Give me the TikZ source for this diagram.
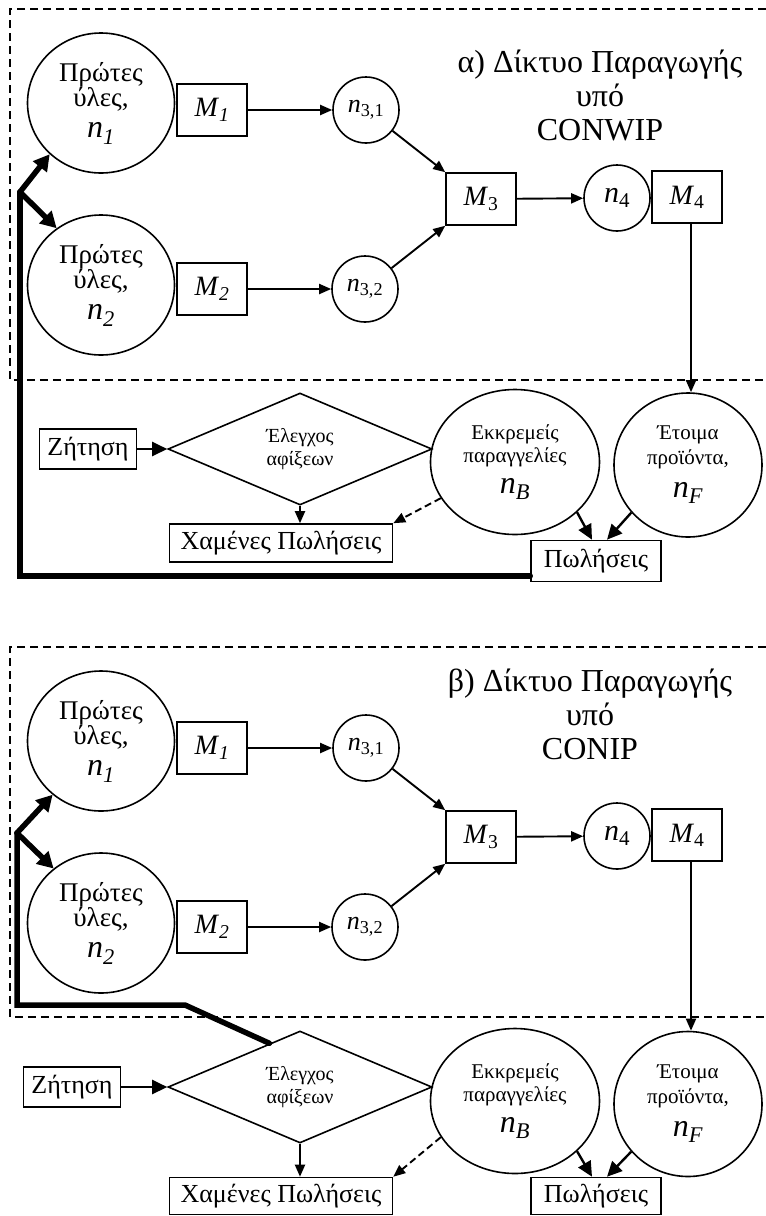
\documentclass[tikz,border=0pt]{standalone}
\usepackage{fontspec}
\setmainfont{Liberation Serif}
\usepackage{tikz}
\usetikzlibrary{positioning, arrows.meta, shapes.geometric}

\begin{document}
\begin{tikzpicture}[x=1pt, y=-1pt,
  stock/.style={draw, ellipse, line width=1.6pt, inner sep=0pt, align=center, font=\fontsize{27}{23}\selectfont},
  buf/.style={draw, circle, line width=1.6pt, inner sep=0pt, minimum size=66pt, font=\fontsize{26}{28}\selectfont},
  mach/.style={draw, line width=1.6pt, inner sep=0pt, minimum width=70pt, minimum height=52pt, font=\fontsize{28}{30}\selectfont},
  lbl/.style={draw, line width=1.6pt, inner sep=0pt, minimum height=40pt, font=\fontsize{26}{28}\selectfont},
  check/.style={draw, diamond, line width=1.6pt, inner sep=0pt, minimum width=264pt, minimum height=112pt, align=center, font=\fontsize{20}{23}\selectfont},
  ttl/.style={align=center, font=\fontsize{32}{34}\selectfont},
  flow/.style={line width=1.9pt, -{Triangle[length=12pt,width=10pt]}},
  bigflow/.style={line width=2.4pt, -{Triangle[length=15pt,width=14pt]}},
  feed/.style={line width=5.5pt, line cap=round},
  feedarr/.style={line width=5.5pt, line cap=round, -{Triangle[length=16pt,width=17pt]}},
  zone/.style={line width=1.4pt, dash pattern=on 8pt off 5pt}]
\useasboundingbox (0,0) rectangle (766,1216);

\draw[zone] (766,9) -- (10,9) -- (10,380) -- (766,380);
\node[ttl] (ta) at (600,95) {α) Δίκτυο Παραγωγής\\υπό\\CONWIP};
\node[stock, minimum width=147pt, minimum height=140pt] (ra1) at (101,103) {Πρώτες\\ύλες,\\[8pt]{\fontsize{32}{32}\selectfont\textit{n}\textsubscript{\textit{1}}}};
\node[stock, minimum width=147pt, minimum height=140pt] (ra2) at (101,285) {Πρώτες\\ύλες,\\[8pt]{\fontsize{32}{32}\selectfont\textit{n}\textsubscript{\textit{2}}}};
\node[mach] (ma1) at (212,110) {\textit{M}\textsubscript{\textit{1}}};
\node[mach] (ma2) at (212,289) {\textit{M}\textsubscript{\textit{2}}};
\node[buf] (qa31) at (366,110) {\textit{n}\textsubscript{3,1}};
\node[buf] (qa32) at (365,289) {\textit{n}\textsubscript{3,2}};
\node[mach] (ma3) at (481,199) {\textit{M}\textsubscript{3}};
\node[buf, font=\fontsize{30}{30}\selectfont] (qa4) at (617,198) {\textit{n}\textsubscript{4}};
\node[mach] (ma4) at (687,197) {\textit{M}\textsubscript{4}};
\node[lbl, minimum width=97pt] (dema) at (88,449) {Ζήτηση};
\node[check] (chka) at (300,449) {Έλεγχος\\αφίξεων};
\node[stock, minimum width=169pt, minimum height=145pt, font=\fontsize{21}{23}\selectfont] (boa) at (515,462) {Εκκρεμείς\\παραγγελίες\\[8pt]{\fontsize{32}{32}\selectfont\textit{n}\textsubscript{\textit{B}}}};
\node[stock, minimum width=148pt, minimum height=144pt, font=\fontsize{21}{25}\selectfont] (fina) at (688,465) {Έτοιμα\\προϊόντα,\\[8pt]{\fontsize{32}{32}\selectfont\textit{n}\textsubscript{\textit{F}}}};
\node[lbl, minimum width=223pt, minimum height=38pt] (losta) at (281,543) {Χαμένες Πωλήσεις};
\node[lbl, minimum width=130pt, minimum height=41pt] (salesa) at (596,561) {Πωλήσεις};
\coordinate (fa) at (20,576);
\coordinate (forka) at (20,192);
\draw[flow] (ma1) -- (qa31);
\draw[flow] (ma2) -- (qa32);
\draw[flow] (qa31) -- (ma3.north west);
\draw[flow] (qa32) -- (ma3.south west);
\draw[flow] (ma3) -- (qa4);
\draw[flow] ([xshift=4pt]ma4.south) -- ([xshift=4pt]ma4.south |- fina.north);
\draw[bigflow] (dema) -- (chka.west);
\draw[flow] (chka.south) -- (chka.south |- losta.north);
\draw[flow, dash pattern=on 7pt off 4pt] (boa.206) -- (losta.north east);
\draw[bigflow] (boa.-39) -- ([xshift=-4pt]salesa.north);
\draw[bigflow] (fina.220) -- ([xshift=11pt]salesa.north);
\draw[feed] (salesa.west |- fa) -- (fa) -- (forka);
\draw[feedarr] (forka) -- (ra1.225);
\draw[feedarr] (forka) -- (ra2.128);

\draw[zone] (766,647) -- (10,647) -- (10,1017) -- (766,1017);
\node[ttl] (tb) at (590,714) {β) Δίκτυο Παραγωγής\\υπό\\CONIP};
\node[stock, minimum width=147pt, minimum height=140pt] (rb1) at (101,741) {Πρώτες\\ύλες,\\[8pt]{\fontsize{32}{32}\selectfont\textit{n}\textsubscript{\textit{1}}}};
\node[stock, minimum width=147pt, minimum height=140pt] (rb2) at (101,923) {Πρώτες\\ύλες,\\[8pt]{\fontsize{32}{32}\selectfont\textit{n}\textsubscript{\textit{2}}}};
\node[mach] (mb1) at (212,748) {\textit{M}\textsubscript{\textit{1}}};
\node[mach] (mb2) at (212,927) {\textit{M}\textsubscript{\textit{2}}};
\node[buf] (qb31) at (366,748) {\textit{n}\textsubscript{3,1}};
\node[buf] (qb32) at (365,927) {\textit{n}\textsubscript{3,2}};
\node[mach] (mb3) at (481,837) {\textit{M}\textsubscript{3}};
\node[buf, font=\fontsize{30}{30}\selectfont] (qb4) at (617,836) {\textit{n}\textsubscript{4}};
\node[mach] (mb4) at (687,835) {\textit{M}\textsubscript{4}};
\node[lbl, minimum width=97pt] (demb) at (72,1087) {Ζήτηση};
\node[check] (chkb) at (300,1087) {Έλεγχος\\αφίξεων};
\node[stock, minimum width=169pt, minimum height=145pt, font=\fontsize{21}{23}\selectfont] (bob) at (515,1101) {Εκκρεμείς\\παραγγελίες\\[8pt]{\fontsize{32}{32}\selectfont\textit{n}\textsubscript{\textit{B}}}};
\node[stock, minimum width=148pt, minimum height=145pt, font=\fontsize{21}{25}\selectfont] (finb) at (688,1104) {Έτοιμα\\προϊόντα,\\[8pt]{\fontsize{32}{32}\selectfont\textit{n}\textsubscript{\textit{F}}}};
\node[lbl, minimum width=223pt, minimum height=37pt] (lostb) at (281,1196) {Χαμένες Πωλήσεις};
\node[lbl, minimum width=130pt, minimum height=37pt] (salesb) at (596,1196) {Πωλήσεις};
\coordinate (kb) at (185,1005);
\coordinate (lb) at (17,1005);
\coordinate (forkb) at (17,833);
\draw[flow] (mb1) -- (qb31);
\draw[flow] (mb2) -- (qb32);
\draw[flow] (qb31) -- (mb3.north west);
\draw[flow] (qb32) -- (mb3.south west);
\draw[flow] (mb3) -- (qb4);
\draw[flow] ([xshift=4pt]mb4.south) -- ([xshift=4pt]mb4.south |- finb.north);
\draw[bigflow] (demb) -- (chkb.west);
\draw[flow] (chkb.south) -- (chkb.south |- lostb.north);
\draw[flow, dash pattern=on 7pt off 4pt] (bob.206) -- (lostb.north east);
\draw[bigflow] (bob.-39) -- ([xshift=-4pt]salesb.north);
\draw[bigflow] (finb.220) -- ([xshift=11pt]salesb.north);
\draw[feed] (chkb.125) -- (kb) -- (lb) -- (forkb);
\draw[feedarr] (forkb) -- (rb1.228);
\draw[feedarr] (forkb) -- (rb2.131);
\end{tikzpicture}
\end{document}
